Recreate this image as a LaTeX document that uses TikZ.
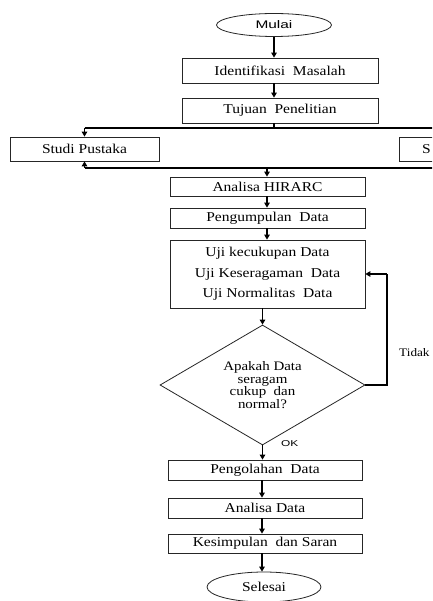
\documentclass[tikz,border=0pt]{standalone}
\usepackage{fontspec}
\setmainfont{Liberation Serif}[FakeStretch=1.15]
\setsansfont{Liberation Sans}[FakeStretch=1.4]
\usetikzlibrary{shapes.geometric,arrows.meta}
\begin{document}
\begin{tikzpicture}[x=1pt,y=-1pt,
  box/.style={draw=black!85,line width=0.8pt,rectangle,inner sep=0pt,font=\fontsize{13.5}{15}\selectfont},
  term/.style={draw=black!85,line width=0.8pt,ellipse,inner sep=0pt},
  arr/.style={line width=1.6pt,-{Triangle[length=5pt,width=5.5pt]}},
  ln/.style={line width=1.6pt}]
\useasboundingbox (0,0) rectangle (432,601);
\clip (0,0) rectangle (432,601);
\fill[white] (0,0) rectangle (432,601);
\node[term,minimum width=115pt,minimum height=23pt,font=\sffamily\fontsize{11}{13}\selectfont] (mulai) at (274,25) {Mulai};
\node[box,minimum width=196pt,minimum height=25pt] (ident) at (280,70.5) {Identifikasi\ \ Masalah};
\node[box,minimum width=196pt,minimum height=25pt] (tujuan) at (280,110.5) {Tujuan\ \ Penelitian};
\node[box,minimum width=149pt,minimum height=24pt] (studi) at (84.5,149) {Studi Pustaka};
\node[box,minimum width=149pt,minimum height=24pt,anchor=west] (lap) at (399,149) {};
\node[font=\fontsize{13.5}{15}\selectfont,anchor=west,inner sep=0pt] (laptext) at (422,149) {S};
\node[box,minimum width=195pt,minimum height=19pt] (hirarc) at (267.5,186.5) {Analisa HIRARC};
\node[box,minimum width=195pt,minimum height=20pt] (kumpul) at (267.5,218) {Pengumpulan\ \ Data};
\node[box,minimum width=195pt,minimum height=68pt,align=center,font=\fontsize{13.5}{20.5}\selectfont] (uji) at (267.5,274) {Uji kecukupan Data\\Uji Keseragaman\ \ Data\\Uji Normalitas\ \ Data};
\node[draw=black!85,line width=0.8pt,diamond,aspect=1.7,minimum width=205pt,minimum height=120pt,inner sep=0pt,align=center,font=\fontsize{13}{12.5}\selectfont] (dec) at (262.5,385) {Apakah Data\\seragam\\cukup\ \ dan\\normal?};
\node[box,minimum width=194pt,minimum height=20pt] (olah) at (265,470) {Pengolahan\ \ Data};
\node[box,minimum width=194pt,minimum height=20pt] (anal) at (265,508) {Analisa Data};
\node[box,minimum width=194pt,minimum height=19pt] (simpul) at (265,543.5) {Kesimpulan\ \ dan Saran};
\node[term,minimum width=114pt,minimum height=30pt,font=\fontsize{13.5}{15}\selectfont] (selesai) at (264,587) {Selesai};
\node[anchor=west,inner sep=0pt,font=\fontsize{11.5}{14}\selectfont] (tidak) at (399,353) {Tidak};
\node[anchor=west,inner sep=0pt,font=\sffamily\fontsize{8.5}{9}\selectfont] (ok) at (281,444) {OK};
\coordinate (split) at (274,128);
\coordinate (join) at (267,168);
\coordinate (fb) at (387,274);
% connectors
\draw[arr] (mulai.south) -- (mulai.south |- ident.north);
\draw[arr] (ident.south -| mulai.south) -- (mulai.south |- tujuan.north);
\draw[ln] (tujuan.south -| mulai.south) -- (split);
\draw[ln] (split -| studi.north) -- (split -| lap.center);
\draw[arr] (split -| studi.north) -- (studi.north);
\draw[arr] (split -| lap.center) -- (lap.north);
\draw[ln] (join -| studi.south) -- (join -| lap.center);
\draw[ln] (join -| lap.center) -- (lap.south);
\draw[arr] (join -| studi.south) -- (studi.south);
\draw[arr] (join) -- (join |- hirarc.north);
\draw[arr] (hirarc.south -| join) -- (join |- kumpul.north);
\draw[arr] (kumpul.south -| join) -- (join |- uji.north);
\draw[arr] (uji.south -| dec.north) -- (dec.north);
\draw[ln] (dec.east) -- (dec.east -| fb) -- (fb);
\draw[arr] (fb) -- (uji.east);
\draw[arr] (dec.south) -- (dec.south |- olah.north);
\draw[arr] (olah.south -| 262,0) -- (anal.north -| 262,0);
\draw[arr] (anal.south -| 262,0) -- (simpul.north -| 262,0);
\draw[arr] (simpul.south -| 262,0) -- (selesai.north -| 262,0);
\end{tikzpicture}
\end{document}
